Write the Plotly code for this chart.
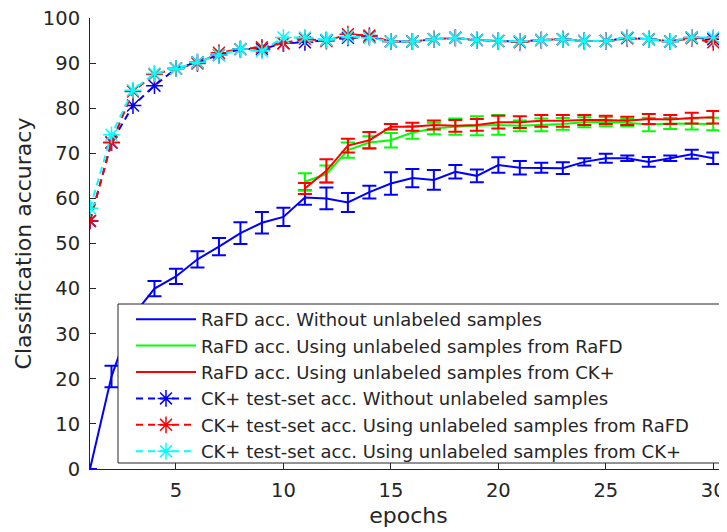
import plotly.graph_objects as go

epochs = list(range(1, 31))
epochs_semi = list(range(11, 31))

rafd_none = [0, 20.5, 34, 40, 42.7, 46.5, 49.3, 52.3, 54.6, 55.9, 60.2, 60.0, 59.1, 61.4, 63.3,
             64.5, 64.1, 65.9, 65.0, 67.4, 66.8, 66.8, 66.7, 68.1, 68.9, 68.9, 68.1, 68.9, 69.8, 68.9]
rafd_none_err = [0, 2.4, 2.0, 1.7, 1.7, 1.8, 1.9, 2.4, 2.4, 2.0, 1.6, 2.4, 2.1, 1.4, 2.5,
                 2.0, 2.2, 1.5, 1.4, 1.7, 1.5, 1.1, 1.3, 0.8, 1.0, 0.6, 1.1, 0.6, 1.0, 1.3]

rafd_from_rafd = [63.7, 65.4, 70.7, 72.4, 72.9, 74.6, 75.5, 75.9, 76.1, 76.3,
                  76.1, 76.3, 76.5, 76.9, 77.0, 76.8, 76.4, 76.6, 76.5, 76.5]
rafd_from_rafd_err = [1.9, 1.9, 1.7, 1.4, 1.6, 1.4, 1.3, 1.8, 2.1, 2.2,
                      1.2, 1.4, 1.3, 1.1, 1.0, 0.8, 1.5, 1.2, 1.2, 1.4]

rafd_from_ck = [62.2, 66.1, 71.7, 72.9, 75.9, 75.9, 76.3, 76.1, 76.3, 76.9,
                76.9, 77.2, 77.2, 77.4, 77.4, 77.2, 77.6, 77.5, 77.8, 78.0]
rafd_from_ck_err = [1.2, 2.6, 1.5, 1.8, 0.6, 0.9, 1.0, 1.3, 1.3, 1.4,
                    1.3, 1.3, 1.3, 1.1, 0.9, 0.9, 1.1, 1.0, 1.2, 1.4]

ck_none = [55.0, 72.4, 80.6, 85.0, 88.8, 90.2, 91.8, 93.1, 93.1, 94.4, 94.6, 95.1, 95.6, 95.8, 94.8,
           94.8, 95.3, 95.6, 95.1, 94.9, 94.8, 95.1, 95.3, 94.9, 94.9, 95.6, 95.3, 94.8, 95.7, 95.3]
ck_from_rafd = [55.0, 72.4, 83.7, 87.5, 88.8, 89.9, 92.3, 93.1, 93.5, 94.4, 95.4, 94.9, 96.4, 96.1, 94.8,
                94.8, 95.3, 95.6, 95.1, 94.9, 94.6, 95.1, 95.3, 94.9, 94.9, 95.5, 95.3, 94.8, 95.5, 94.6]
ck_from_ck = [57.8, 74.1, 84.0, 87.7, 88.8, 90.2, 91.8, 93.1, 92.7, 95.7, 95.7, 95.1, 95.9, 95.6, 94.8,
              94.8, 95.3, 95.6, 95.1, 94.9, 94.8, 95.1, 95.3, 94.9, 94.9, 95.7, 95.3, 94.8, 95.7, 95.7]

names = [
    "RaFD acc. Without unlabeled samples",
    "RaFD acc. Using unlabeled samples from RaFD",
    "RaFD acc. Using unlabeled samples from CK+",
    "CK+ test-set acc. Without unlabeled samples",
    "CK+ test-set acc. Using unlabeled samples from RaFD",
    "CK+ test-set acc. Using unlabeled samples from CK+",
]

TXT = "#262626"
FONT = "DejaVu Sans"

fig = go.Figure()

solid = [(epochs, rafd_none, rafd_none_err, "#0000FF"),
         (epochs_semi, rafd_from_rafd, rafd_from_rafd_err, "#00FF00"),
         (epochs_semi, rafd_from_ck, rafd_from_ck_err, "#FF0000")]
for i, (xs, ys, es, c) in enumerate(solid):
    fig.add_trace(go.Scatter(
        x=xs, y=ys, name=names[i], mode="lines",
        line=dict(color=c, width=2),
        error_y=dict(type="data", array=es, visible=True, color=c, thickness=2, width=7),
    ))

dashed = [(ck_none, "#0000FF"), (ck_from_rafd, "#FF0000"), (ck_from_ck, "#00FFFF")]
for j, (ys, c) in enumerate(dashed):
    fig.add_trace(go.Scatter(
        x=epochs, y=ys, name=names[3 + j], mode="lines+markers",
        line=dict(color=c, width=2, dash="7px,5px"),
        marker=dict(symbol="asterisk-open", size=14, color=c, line=dict(color=c, width=1.5)),
    ))

# page has an 8px body margin; the figure is laid out in screen pixels minus that offset
OFF = 8
W, H = 727 - OFF, 532 - OFF
ml, mr, mt, mb = 90 - OFF, 0, 18 - OFF, 63
pw, ph = W - ml - mr, H - mt - mb

def px_x(p):
    return (p - OFF - ml) / pw

def px_y(p):
    return (H - mb - (p - OFF)) / ph

fig.add_shape(type="rect", xref="paper", yref="paper",
              x0=px_x(118), x1=px_x(760), y0=px_y(463), y1=px_y(304),
              fillcolor="white", line=dict(color=TXT, width=1), layer="above")

fig.update_layout(
    width=W, height=H,
    margin=dict(l=ml, r=mr, t=mt, b=mb),
    plot_bgcolor="white", paper_bgcolor="white",
    font=dict(family=FONT, color=TXT, size=19.5),
    showlegend=True,
    legend=dict(
        x=px_x(131), y=px_y(301), xanchor="left", yanchor="top",
        bgcolor="rgba(0,0,0,0)", borderwidth=0,
        font=dict(family=FONT, size=18, color=TXT),
        itemwidth=60, tracegroupgap=0,
    ),
    xaxis=dict(
        range=[1, 30.64], tickmode="array", tickvals=[5, 10, 15, 20, 25, 30],
        ticks="inside", ticklen=6, tickcolor=TXT, showline=True, linecolor=TXT, linewidth=1,
        showgrid=False, zeroline=False, ticklabelstandoff=4, ticklabeloverflow="allow",
        title=dict(text="epochs", font=dict(size=22), standoff=6),
        tickfont=dict(size=19.5),
    ),
    yaxis=dict(
        range=[0, 100], tickmode="array", tickvals=list(range(0, 101, 10)),
        ticks="inside", ticklen=6, tickcolor=TXT, showline=True, linecolor=TXT, linewidth=1,
        showgrid=False, zeroline=False, ticklabelstandoff=5, ticklabeloverflow="allow",
        title=dict(text="Classification accuracy", font=dict(size=22), standoff=5),
        tickfont=dict(size=19.5),
    ),
)

fig.write_html("out.html")
